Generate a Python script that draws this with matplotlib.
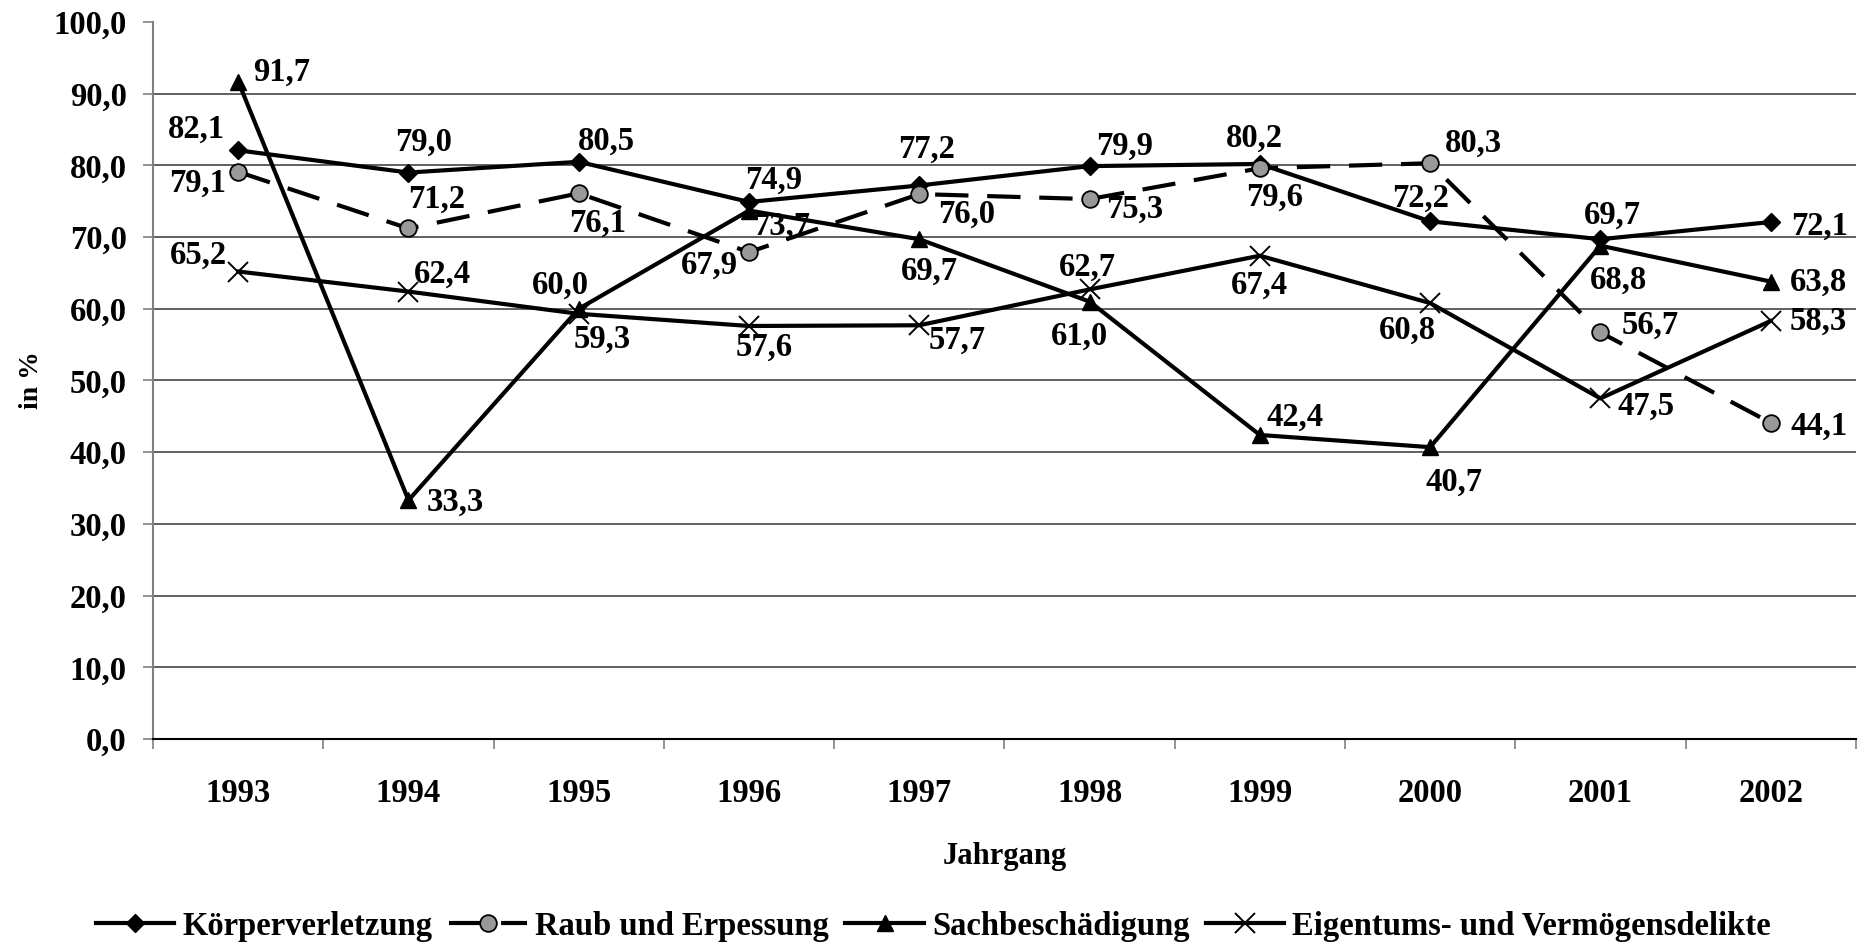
import numpy as np
import matplotlib
matplotlib.use("Agg")
import matplotlib.pyplot as plt

plt.rcParams['font.family'] = ['Liberation Serif', 'DejaVu Serif']
plt.rcParams['font.weight'] = 'bold'

# data
years = ['1993', '1994', '1995', '1996', '1997', '1998', '1999', '2000', '2001', '2002']
koerper = [82.1, 79.0, 80.5, 74.9, 77.2, 79.9, 80.2, 72.2, 69.7, 72.1]
raub = [79.1, 71.2, 76.1, 67.9, 76.0, 75.3, 79.6, 80.3, 56.7, 44.1]
sach = [91.7, 33.3, 60.0, 73.7, 69.7, 61.0, 42.4, 40.7, 68.8, 63.8]
eigentum = [65.2, 62.4, 59.3, 57.6, 57.7, 62.7, 67.4, 60.8, 47.5, 58.3]
series_names = ['Körperverletzung', 'Raub und Erpessung', 'Sachbeschädigung',
                'Eigentums- und Vermögensdelikte']
y_ticks = [0, 10, 20, 30, 40, 50, 60, 70, 80, 90, 100]

# where each value label sits relative to its point (pixels, up = positive)
koerper_offsets = [(-42, 25), (15, 34), (28, 24), (25, 25), (7, 40), (35, 23), (-5, 29), (-10, 27), (12, 27), (49, -1)]
raub_offsets = [(-41, -8), (28, 33), (19, -26), (-40, -10), (47, -17), (45, -7), (15, -26), (43, 23), (50, 11), (48, 0)]
sach_offsets = [(43, 13), (47, 1), (-18, 27), (33, -12), (10, -29), (-10, -31), (35, 21), (24, -32), (18, -31), (48, 3)]
eig_offsets = [(-40, 20), (34, 21), (23, -22), (15, -18), (38, -11), (-2, 26), (0, -26), (-23, -24), (46, -4), (48, 3)]


def fmt(v):
    return f'{v:.1f}'.replace('.', ',')


fig = plt.figure(figsize=(18.67, 9.44), dpi=100)
ax = fig.add_axes([0.082, 0.2172, 0.912, 0.7595])

x = np.arange(len(years))
fs = 23.5

# grid lines (none at the top)
for v in y_ticks[1:-1]:
    ax.axhline(v, color='#444444', lw=1.2, zorder=1)

styles = [
    dict(data=koerper, offs=koerper_offsets, marker='D', ms=9, mfc='black', mec='black', mew=1, ls='-'),
    dict(data=raub, offs=raub_offsets, marker='o', ms=12, mfc='#999999', mec='black', mew=1.3, ls=(0, (8, 4.5))),
    dict(data=sach, offs=sach_offsets, marker='^', ms=12, mfc='black', mec='black', mew=1, ls='-'),
    dict(data=eigentum, offs=eig_offsets, marker='x', ms=14, mfc='black', mec='black', mew=1.4, ls='-'),
]

handles = []
for name, st in zip(series_names, styles):
    line, = ax.plot(x, st['data'], color='black', lw=3, ls=st['ls'], marker=st['marker'],
                    ms=st['ms'], mfc=st['mfc'], mec=st['mec'], mew=st['mew'], zorder=3,
                    label=name)
    handles.append(line)
    for xi, v, (dx, dy) in zip(x, st['data'], st['offs']):
        ax.annotate(fmt(v), (xi, v), xytext=(dx, dy), textcoords='offset pixels',
                    ha='center', va='center_baseline', fontsize=fs, fontweight='bold',
                    zorder=4)

ax.set_xlim(-0.5, len(years) - 0.5)
ax.set_ylim(0, 100)
ax.set_yticks(y_ticks)
ax.set_yticklabels([fmt(v) for v in y_ticks], fontsize=fs, fontweight='bold')
ax.tick_params(axis='y', length=7, width=1.2, color='#808080', pad=12)

ax.set_xticks(x)
ax.set_xticklabels(years, fontsize=fs, fontweight='bold')
ax.set_xticks(np.arange(len(years) + 1) - 0.5, minor=True)
ax.tick_params(axis='x', which='major', length=0, pad=28)
ax.tick_params(axis='x', which='minor', length=7, width=1.2, color='#808080')

for s in ['top', 'right']:
    ax.spines[s].set_visible(False)
ax.spines['left'].set_color('#808080')
ax.spines['left'].set_linewidth(1.5)
ax.spines['bottom'].set_color('black')
ax.spines['bottom'].set_linewidth(1.5)

ax.set_xlabel('Jahrgang', fontsize=22, fontweight='bold', labelpad=24)
ax.set_ylabel('in %', fontsize=20, fontweight='bold', labelpad=7)

fig.legend(handles=handles, loc='center', bbox_to_anchor=(0.5, 0.019), ncol=4,
           frameon=False, handlelength=2.4, handletextpad=0.25,
           columnspacing=0.5, prop={'size': fs, 'weight': 'bold'})

fig.savefig('out.png', dpi=100)
